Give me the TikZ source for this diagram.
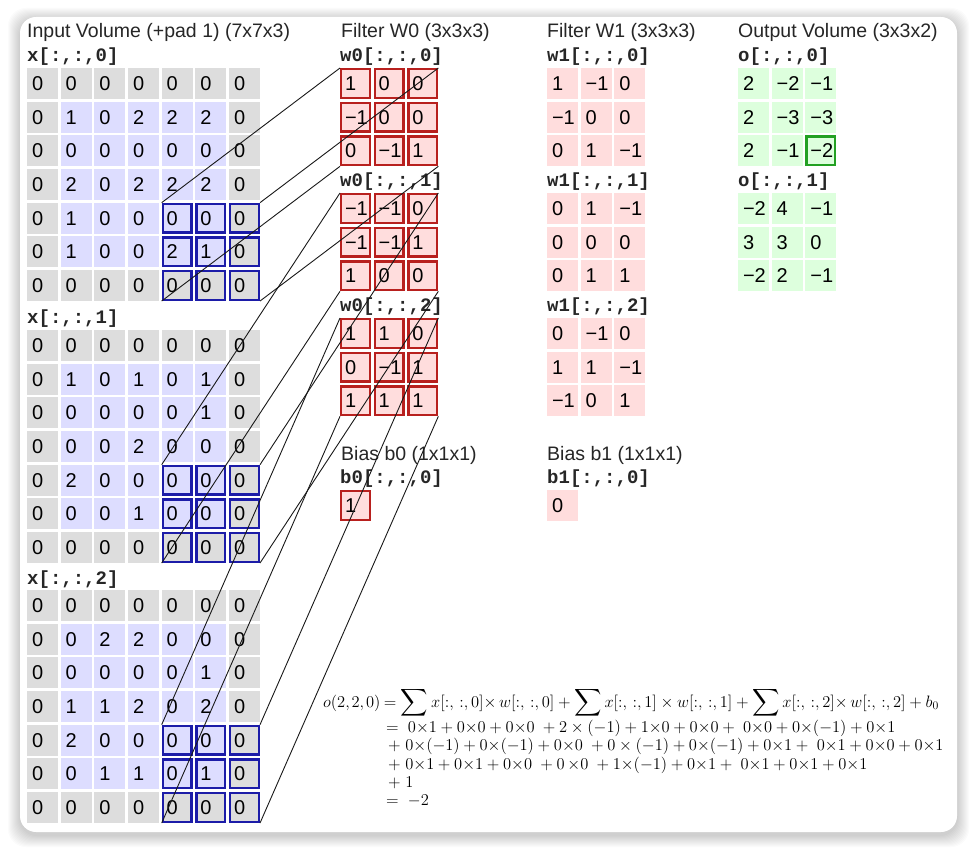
\RequirePackage{fix-cm}
\documentclass[tikz,border=0pt]{standalone}
\usepackage{exscale}
\usepackage[no-math]{fontspec}
\setmainfont{Liberation Sans}
\newfontfamily\monof{Liberation Mono}
\definecolor{padgray}{HTML}{DDDDDD}
\definecolor{inblue}{HTML}{DDDDFF}
\definecolor{fred}{HTML}{FFDDDD}
\definecolor{ogreen}{HTML}{DDFFDD}
\definecolor{hlblue}{HTML}{1C1CA8}
\definecolor{hlred}{HTML}{B8201E}
\definecolor{hlgreen}{HTML}{22A022}
\newcommand\cellfont{\fontsize{20}{24}\selectfont}
\newcommand\titlefont{\fontsize{19.5}{24}\selectfont}
\newcommand\labfont{\monof\bfseries\fontsize{19}{22}\selectfont}
\newcommand\fmlfont{\fontsize{16.5}{20}\selectfont}
\newcommand\bigsum{\mathop{\vcenter{\hbox{\scalebox{1.1}{$\displaystyle\sum$}}}}\nolimits}
\newcommand\inputslice[3]{%
  \foreach \rowdata [count=\r from 0] in {#3} {
    \foreach \v [count=\c from 0] in \rowdata {
      \pgfmathtruncatemacro\pad{(\r==0||\r==6||\c==0||\c==6)?1:0}
      \ifnum\pad=1 \def\fc{padgray}\else\def\fc{inblue}\fi
      \node[cell, fill=\fc] (x#1-\r-\c) at ({27+\c*33.67},{#2+\r*33.67}) {\v};
    }
  }
}
\newcommand\filtslice[5]{%
  \foreach \rowdata [count=\r from 0] in {#5} {
    \foreach \v [count=\c from 0] in \rowdata {
      \node[cell, fill=#4] (#1-\r-\c) at ({#2+\c*33.67},{#3+\r*33.67}) {\v};
    }
  }
}
\newcommand\hlcell[2]{%
  \draw[#1, line width=2.2pt] ([shift={(1.1,1.1)}]#2.north west) rectangle ([shift={(-1.1,-1.1)}]#2.south east);
}
\begin{document}
\begin{tikzpicture}[x=1pt,y=-1pt,
  cell/.style={rectangle, minimum height=31pt, text width=21pt, inner xsep=5pt, inner ysep=0pt,
    outer sep=0pt, anchor=north west, align=left, font=\cellfont},
  ttl/.style={anchor=west, inner sep=0pt, font=\titlefont, text=black!85},
  lab/.style={anchor=west, inner sep=0pt, font=\labfont, text=black!85},
  fml/.style={anchor=base west, inner sep=0pt, font=\fmlfont},
  conn/.style={draw=black!90, line width=0.9pt}]
\useasboundingbox (0,0) rectangle (974,850);
\fill[white] (0,0) rectangle (974,850);
% frame with soft shadow
\foreach \i in {1,...,12} {
  \fill[black, opacity=0.014, rounded corners=18pt] ({20-\i},{17-\i+3}) rectangle ({957+\i},{832+\i+3});
}
\fill[white, rounded corners=16pt] (20,17) rectangle (957,832);

% titles
\node[ttl] (tin) at (27,32) {Input Volume (+pad 1) (7x7x3)};
\node[ttl] (tw0) at (341,32) {Filter W0 (3x3x3)};
\node[ttl] (tw1) at (547,32) {Filter W1 (3x3x3)};
\node[ttl] (tout) at (738,32) {Output Volume (3x3x2)};
\node[ttl] (tb0) at (341,455) {Bias b0 (1x1x1)};
\node[ttl] (tb1) at (547,455) {Bias b1 (1x1x1)};

% slice labels
\node[lab] (lx0) at (27,57) {x[:,:,0]};
\node[lab] (lx1) at (27,319) {x[:,:,1]};
\node[lab] (lx2) at (27,580) {x[:,:,2]};
\node[lab] (lw00) at (340,57) {w0[:,:,0]};
\node[lab] (lw01) at (340,182) {w0[:,:,1]};
\node[lab] (lw02) at (340,307) {w0[:,:,2]};
\node[lab] (lw10) at (547,57) {w1[:,:,0]};
\node[lab] (lw11) at (547,182) {w1[:,:,1]};
\node[lab] (lw12) at (547,307) {w1[:,:,2]};
\node[lab] (lb0) at (340,479) {b0[:,:,0]};
\node[lab] (lb1) at (547,479) {b1[:,:,0]};
\node[lab] (lo0) at (738,57) {o[:,:,0]};
\node[lab] (lo1) at (738,182) {o[:,:,1]};

% input volume
\inputslice{0}{68}{{0,0,0,0,0,0,0},{0,1,0,2,2,2,0},{0,0,0,0,0,0,0},{0,2,0,2,2,2,0},{0,1,0,0,0,0,0},{0,1,0,0,2,1,0},{0,0,0,0,0,0,0}}
\inputslice{1}{330}{{0,0,0,0,0,0,0},{0,1,0,1,0,1,0},{0,0,0,0,0,1,0},{0,0,0,2,0,0,0},{0,2,0,0,0,0,0},{0,0,0,1,0,0,0},{0,0,0,0,0,0,0}}
\inputslice{2}{590}{{0,0,0,0,0,0,0},{0,0,2,2,0,0,0},{0,0,0,0,0,1,0},{0,1,1,2,0,2,0},{0,2,0,0,0,0,0},{0,0,1,1,0,1,0},{0,0,0,0,0,0,0}}

% filter W0
\filtslice{wa0}{340}{68}{fred}{{1,0,0},{−1,0,0},{0,−1,1}}
\filtslice{wa1}{340}{193}{fred}{{−1,−1,0},{−1,−1,1},{1,0,0}}
\filtslice{wa2}{340}{318}{fred}{{1,1,0},{0,−1,1},{1,1,1}}
\node[cell, fill=fred] (b0) at (340,490) {1};
% filter W1
\filtslice{wb0}{547}{68}{fred}{{1,−1,0},{−1,0,0},{0,1,−1}}
\filtslice{wb1}{547}{193}{fred}{{0,1,−1},{0,0,0},{0,1,1}}
\filtslice{wb2}{547}{318}{fred}{{0,−1,0},{1,1,−1},{−1,0,1}}
\node[cell, fill=fred] (b1) at (547,490) {0};
% output
\filtslice{oa}{738}{68}{ogreen}{{2,−2,−1},{2,−3,−3},{2,−1,−2}}
\filtslice{ob}{738}{193}{ogreen}{{−2,4,−1},{3,3,0},{−2,2,−1}}

% highlights
\foreach \k in {0,1,2} {
  \foreach \r in {4,5,6} {
    \foreach \c in {4,5,6} {
      \hlcell{hlblue}{x\k-\r-\c}
    }
  }
}
\foreach \k in {0,1,2} {
  \foreach \r in {0,1,2} {
    \foreach \c in {0,1,2} {
      \hlcell{hlred}{wa\k-\r-\c}
    }
  }
}
\hlcell{hlred}{b0}
\hlcell{hlgreen}{oa-2-2}

% connectors
\foreach \k in {0,1,2} {
  \draw[conn] (x\k-4-4.north west) -- (wa\k-0-0.north west);
  \draw[conn] (x\k-4-6.north east) -- (wa\k-0-2.north east);
  \draw[conn] (x\k-6-4.south west) -- (wa\k-2-0.south west);
  \draw[conn] (x\k-6-6.south east) -- (wa\k-2-2.south east);
}

% formula
\node[fml] (f1) at (323,707) {$\hbox to 56pt{$o(2{,}\mkern2mu 2{,}\mkern2mu 0)$\hfil}= \bigsum x[{:},\,{:},0]{\times}\, w[{:},\,{:},0] + \bigsum x[{:},\,{:},1] \times w[{:},\,{:},1] + \bigsum x[{:},\,{:},2]{\times}\, w[{:},\,{:},2] + b_0$};
\node[fml] (f2) at (386,732) {$=\ 0{\times}1 + 0{\times}0 + 0{\times}0 \ + 2 \times (-1) + 1{\times}0 + 0{\times}0 + \ 0{\times}0 + 0{\times}(-1) + 0{\times}1$};
\node[fml] (f3) at (388,750) {${+}\ 0{\times}(-1) + 0{\times}(-1) + 0{\times}0 \ + 0 \times (-1) + 0{\times}(-1) + 0{\times}1 + \ 0{\times}1 + 0{\times}0 + 0{\times}1$};
\node[fml] (f4) at (388,769) {${+}\ 0{\times}1 + 0{\times}1 + 0{\times}0 \ + 0\,{\times}0 \ + 1{\times}(-1) + 0{\times}1 + \ 0{\times}1 + 0{\times}1 + 0{\times}1$};
\node[fml] (f5) at (388,787) {${+}\ 1$};
\node[fml] (f6) at (386,805) {$=\ -2$};
\end{tikzpicture}
\end{document}
